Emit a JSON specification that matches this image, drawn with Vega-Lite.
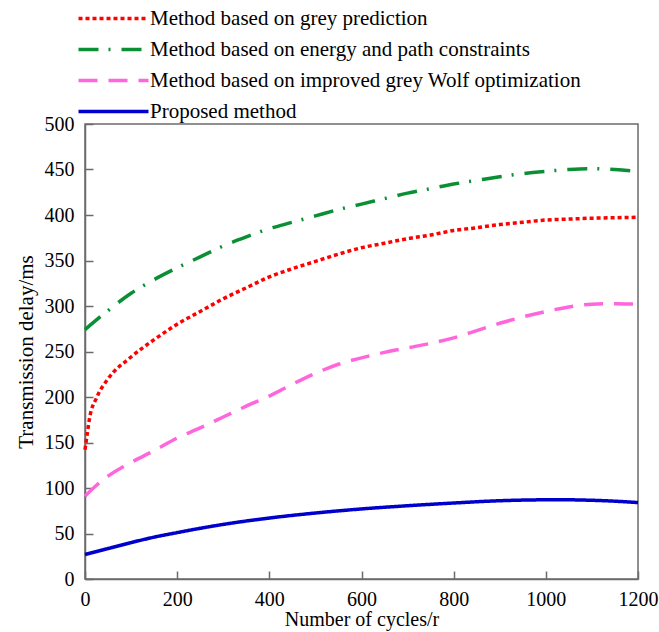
{
  "$schema": "https://vega.github.io/schema/vega-lite/v6.json",
  "width": 553,
  "height": 455,
  "autosize": {"type": "none"},
  "padding": {"left": 85, "top": 124, "right": 21, "bottom": 53},
  "config": {
    "font": "Liberation Serif",
    "view": {"stroke": "#6b6b6b", "strokeWidth": 1.5},
    "axis": {
      "labelFont": "Liberation Serif", "titleFont": "Liberation Serif",
      "labelFontSize": 20, "titleFontSize": 21,
      "labelColor": "#000000", "titleColor": "#000000", "titleFontWeight": "normal",
      "grid": false, "domainColor": "#6b6b6b", "domainWidth": 1.5,
      "tickColor": "#6b6b6b", "tickWidth": 1.5, "tickSize": -8
    },
    "legend": {
      "orient": "none", "legendX": 18, "legendY": -116, "direction": "vertical",
      "symbolType": "M-7,0H7", "symbolSize": 100, "symbolStrokeWidth": 3.5,
      "labelFont": "Liberation Serif", "labelFontSize": 21, "labelColor": "#000000",
      "labelOffset": 26, "rowPadding": 9, "padding": 0, "labelLimit": 600
    }
  },
  "data": {
    "values": [
      {"method": "Method based on grey prediction", "cycles": 0, "delay": 142},
      {"method": "Method based on grey prediction", "cycles": 5, "delay": 160},
      {"method": "Method based on grey prediction", "cycles": 10, "delay": 177},
      {"method": "Method based on grey prediction", "cycles": 25, "delay": 199},
      {"method": "Method based on grey prediction", "cycles": 50, "delay": 220},
      {"method": "Method based on grey prediction", "cycles": 100, "delay": 244},
      {"method": "Method based on grey prediction", "cycles": 150, "delay": 263},
      {"method": "Method based on grey prediction", "cycles": 200, "delay": 280},
      {"method": "Method based on grey prediction", "cycles": 250, "delay": 294},
      {"method": "Method based on grey prediction", "cycles": 300, "delay": 308},
      {"method": "Method based on grey prediction", "cycles": 350, "delay": 320},
      {"method": "Method based on grey prediction", "cycles": 400, "delay": 332},
      {"method": "Method based on grey prediction", "cycles": 450, "delay": 341},
      {"method": "Method based on grey prediction", "cycles": 500, "delay": 349},
      {"method": "Method based on grey prediction", "cycles": 550, "delay": 357},
      {"method": "Method based on grey prediction", "cycles": 600, "delay": 364},
      {"method": "Method based on grey prediction", "cycles": 650, "delay": 369},
      {"method": "Method based on grey prediction", "cycles": 700, "delay": 374},
      {"method": "Method based on grey prediction", "cycles": 750, "delay": 378},
      {"method": "Method based on grey prediction", "cycles": 800, "delay": 383},
      {"method": "Method based on grey prediction", "cycles": 850, "delay": 386},
      {"method": "Method based on grey prediction", "cycles": 900, "delay": 389.5},
      {"method": "Method based on grey prediction", "cycles": 950, "delay": 392},
      {"method": "Method based on grey prediction", "cycles": 1000, "delay": 394.5},
      {"method": "Method based on grey prediction", "cycles": 1050, "delay": 395.5},
      {"method": "Method based on grey prediction", "cycles": 1100, "delay": 396.5},
      {"method": "Method based on grey prediction", "cycles": 1150, "delay": 397},
      {"method": "Method based on grey prediction", "cycles": 1200, "delay": 397.5},
      {"method": "Method based on energy and path constraints", "cycles": 0, "delay": 274},
      {"method": "Method based on energy and path constraints", "cycles": 50, "delay": 295},
      {"method": "Method based on energy and path constraints", "cycles": 100, "delay": 314},
      {"method": "Method based on energy and path constraints", "cycles": 150, "delay": 329},
      {"method": "Method based on energy and path constraints", "cycles": 200, "delay": 342},
      {"method": "Method based on energy and path constraints", "cycles": 250, "delay": 354},
      {"method": "Method based on energy and path constraints", "cycles": 300, "delay": 366},
      {"method": "Method based on energy and path constraints", "cycles": 350, "delay": 376},
      {"method": "Method based on energy and path constraints", "cycles": 400, "delay": 385},
      {"method": "Method based on energy and path constraints", "cycles": 450, "delay": 392},
      {"method": "Method based on energy and path constraints", "cycles": 500, "delay": 399},
      {"method": "Method based on energy and path constraints", "cycles": 550, "delay": 406},
      {"method": "Method based on energy and path constraints", "cycles": 600, "delay": 412},
      {"method": "Method based on energy and path constraints", "cycles": 650, "delay": 418},
      {"method": "Method based on energy and path constraints", "cycles": 700, "delay": 424},
      {"method": "Method based on energy and path constraints", "cycles": 750, "delay": 429},
      {"method": "Method based on energy and path constraints", "cycles": 800, "delay": 434},
      {"method": "Method based on energy and path constraints", "cycles": 850, "delay": 438},
      {"method": "Method based on energy and path constraints", "cycles": 900, "delay": 442},
      {"method": "Method based on energy and path constraints", "cycles": 950, "delay": 445.5},
      {"method": "Method based on energy and path constraints", "cycles": 1000, "delay": 448},
      {"method": "Method based on energy and path constraints", "cycles": 1050, "delay": 450},
      {"method": "Method based on energy and path constraints", "cycles": 1100, "delay": 451},
      {"method": "Method based on energy and path constraints", "cycles": 1150, "delay": 450},
      {"method": "Method based on energy and path constraints", "cycles": 1200, "delay": 448},
      {"method": "Method based on improved grey Wolf optimization", "cycles": 0, "delay": 91},
      {"method": "Method based on improved grey Wolf optimization", "cycles": 25, "delay": 103},
      {"method": "Method based on improved grey Wolf optimization", "cycles": 50, "delay": 113},
      {"method": "Method based on improved grey Wolf optimization", "cycles": 100, "delay": 128},
      {"method": "Method based on improved grey Wolf optimization", "cycles": 150, "delay": 141},
      {"method": "Method based on improved grey Wolf optimization", "cycles": 200, "delay": 155},
      {"method": "Method based on improved grey Wolf optimization", "cycles": 250, "delay": 166},
      {"method": "Method based on improved grey Wolf optimization", "cycles": 300, "delay": 178},
      {"method": "Method based on improved grey Wolf optimization", "cycles": 350, "delay": 190},
      {"method": "Method based on improved grey Wolf optimization", "cycles": 400, "delay": 201},
      {"method": "Method based on improved grey Wolf optimization", "cycles": 450, "delay": 214},
      {"method": "Method based on improved grey Wolf optimization", "cycles": 500, "delay": 226},
      {"method": "Method based on improved grey Wolf optimization", "cycles": 550, "delay": 236},
      {"method": "Method based on improved grey Wolf optimization", "cycles": 600, "delay": 243},
      {"method": "Method based on improved grey Wolf optimization", "cycles": 650, "delay": 249},
      {"method": "Method based on improved grey Wolf optimization", "cycles": 700, "delay": 254},
      {"method": "Method based on improved grey Wolf optimization", "cycles": 750, "delay": 259},
      {"method": "Method based on improved grey Wolf optimization", "cycles": 800, "delay": 265},
      {"method": "Method based on improved grey Wolf optimization", "cycles": 850, "delay": 273},
      {"method": "Method based on improved grey Wolf optimization", "cycles": 900, "delay": 281},
      {"method": "Method based on improved grey Wolf optimization", "cycles": 950, "delay": 288},
      {"method": "Method based on improved grey Wolf optimization", "cycles": 1000, "delay": 294},
      {"method": "Method based on improved grey Wolf optimization", "cycles": 1050, "delay": 299},
      {"method": "Method based on improved grey Wolf optimization", "cycles": 1100, "delay": 302},
      {"method": "Method based on improved grey Wolf optimization", "cycles": 1150, "delay": 302.5},
      {"method": "Method based on improved grey Wolf optimization", "cycles": 1200, "delay": 302},
      {"method": "Proposed method", "cycles": 0, "delay": 27},
      {"method": "Proposed method", "cycles": 50, "delay": 33.5},
      {"method": "Proposed method", "cycles": 100, "delay": 40},
      {"method": "Proposed method", "cycles": 150, "delay": 46},
      {"method": "Proposed method", "cycles": 200, "delay": 51},
      {"method": "Proposed method", "cycles": 300, "delay": 60},
      {"method": "Proposed method", "cycles": 400, "delay": 67},
      {"method": "Proposed method", "cycles": 500, "delay": 72.5},
      {"method": "Proposed method", "cycles": 600, "delay": 77},
      {"method": "Proposed method", "cycles": 700, "delay": 80.5},
      {"method": "Proposed method", "cycles": 800, "delay": 83.5},
      {"method": "Proposed method", "cycles": 900, "delay": 86},
      {"method": "Proposed method", "cycles": 1000, "delay": 87},
      {"method": "Proposed method", "cycles": 1050, "delay": 87},
      {"method": "Proposed method", "cycles": 1100, "delay": 86.5},
      {"method": "Proposed method", "cycles": 1150, "delay": 85.5},
      {"method": "Proposed method", "cycles": 1200, "delay": 84}
    ]
  },
  "mark": {"type": "line", "interpolate": "monotone", "strokeWidth": 3.5},
  "encoding": {
    "x": {
      "field": "cycles", "type": "quantitative",
      "scale": {"domain": [0, 1200], "nice": false},
      "axis": {"values": [0, 200, 400, 600, 800, 1000, 1200], "format": "d", "title": "Number of cycles/r", "titleFontSize": 20, "labelPadding": 18, "titlePadding": 0, "labelFlush": false}
    },
    "y": {
      "field": "delay", "type": "quantitative",
      "scale": {"domain": [0, 500], "nice": false},
      "axis": {"values": [0, 50, 100, 150, 200, 250, 300, 350, 400, 450, 500], "format": "d", "title": "Transmission delay/ms", "labelPadding": 19, "titlePadding": 8}
    },
    "color": {
      "field": "method", "type": "nominal",
      "scale": {
        "domain": ["Method based on grey prediction", "Method based on energy and path constraints", "Method based on improved grey Wolf optimization", "Proposed method"],
        "range": ["#ff0000", "#0a8f35", "#ff66dd", "#0000cc"]
      },
      "legend": {"title": null}
    },
    "strokeDash": {
      "field": "method", "type": "nominal",
      "scale": {
        "domain": ["Method based on grey prediction", "Method based on energy and path constraints", "Method based on improved grey Wolf optimization", "Proposed method"],
        "range": [[4, 3], [20, 10, 2, 11], [19, 11], [1, 0]]
      },
      "legend": {"title": null}
    }
  }
}
